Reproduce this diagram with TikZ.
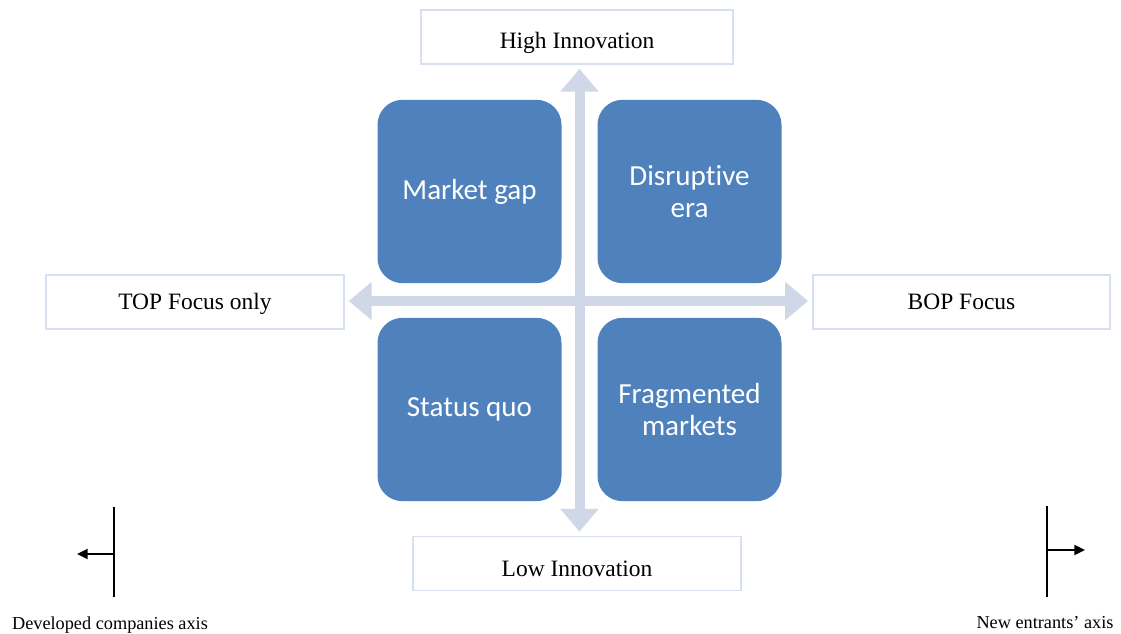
\documentclass[tikz,border=0pt]{standalone}
\usepackage{fontspec}
\setmainfont{Liberation Serif}
\newfontfamily\quadfont[Ligatures=NoCommon]{Carlito}
\usetikzlibrary{arrows.meta}
\definecolor{quadblue}{HTML}{4F81BD}
\definecolor{axisgrey}{HTML}{D0D8E8}
\definecolor{labelline}{HTML}{D6E0EE}
\tikzset{bigtri/.tip={Triangle[width=27.75pt,length=17.25pt]},
smalltri/.tip={Triangle[width=7.5pt,length=8pt]}}

\begin{document}
\begin{tikzpicture}[x=0.75pt,y=-0.75pt,
quad/.style={rectangle, rounded corners=18.75pt, fill=quadblue, minimum width=138pt,
minimum height=137.5pt, text=white, align=center,
font=\quadfont\fontsize{21.8}{24}\selectfont},
lab/.style={rectangle, draw=labelline, line width=1.1pt, fill=white,
minimum height=40.5pt, text height=12pt, text depth=0pt,
font=\fontsize{17.6}{20}\selectfont},
axis/.style={draw=axisgrey, line width=7.5pt, bigtri-bigtri, shorten >=3pt, shorten <=3pt},
markline/.style={line width=1.1pt},
markarrow/.style={line width=1.5pt, -smalltri},
axislabel/.style={font=\fontsize{13.7}{16}\selectfont}]
\useasboundingbox (0,0) rectangle (1121,634);

% four quadrants
\node[quad] (mgap) at (469.5,191.5) {Market gap};
\node[quad] (disr) at (689.5,191.5) {Disruptive\\era};
\node[quad] (sq) at (469.5,409.5) {Status quo};
\node[quad] (frag) at (689.5,409.5) {Fragmented\\markets};

% axis labels
\node[lab, minimum width=234pt, text height=18pt] (hi) at (577,37) {High Innovation};
\node[lab, minimum width=246pt, text height=19pt] (lo) at (577,563.5) {Low Innovation};
\node[lab, minimum width=223.5pt] (top) at (195,302) {TOP Focus only};
\node[lab, minimum width=223pt] (bop) at (961.5,302) {BOP Focus};

% axes
\coordinate (c) at (579.5,301);
\draw[axis] (hi.south -| c)--(lo.north -| c);
\draw[axis] (top.east |- c)--(bop.west |- c);

% developed companies mark
\coordinate (devtop) at (114,507);
\coordinate (devbot) at (114,597);
\coordinate (devmid) at (114,554);
\coordinate (devend) at (77,554);
\draw[markline] (devtop)--(devbot);
\draw[markarrow] (devmid)--(devend);
\node[axislabel] (devlab) at (110,625) {Developed companies axis};

% new entrants mark
\coordinate (newtop) at (1047,506);
\coordinate (newbot) at (1047,597);
\coordinate (newmid) at (1047,550);
\coordinate (newend) at (1085,550);
\draw[markline] (newtop)--(newbot);
\draw[markarrow] (newmid)--(newend);
\node[axislabel] (newlab) at (1045,623) {New entrants’ axis};
\end{tikzpicture}
\end{document}
